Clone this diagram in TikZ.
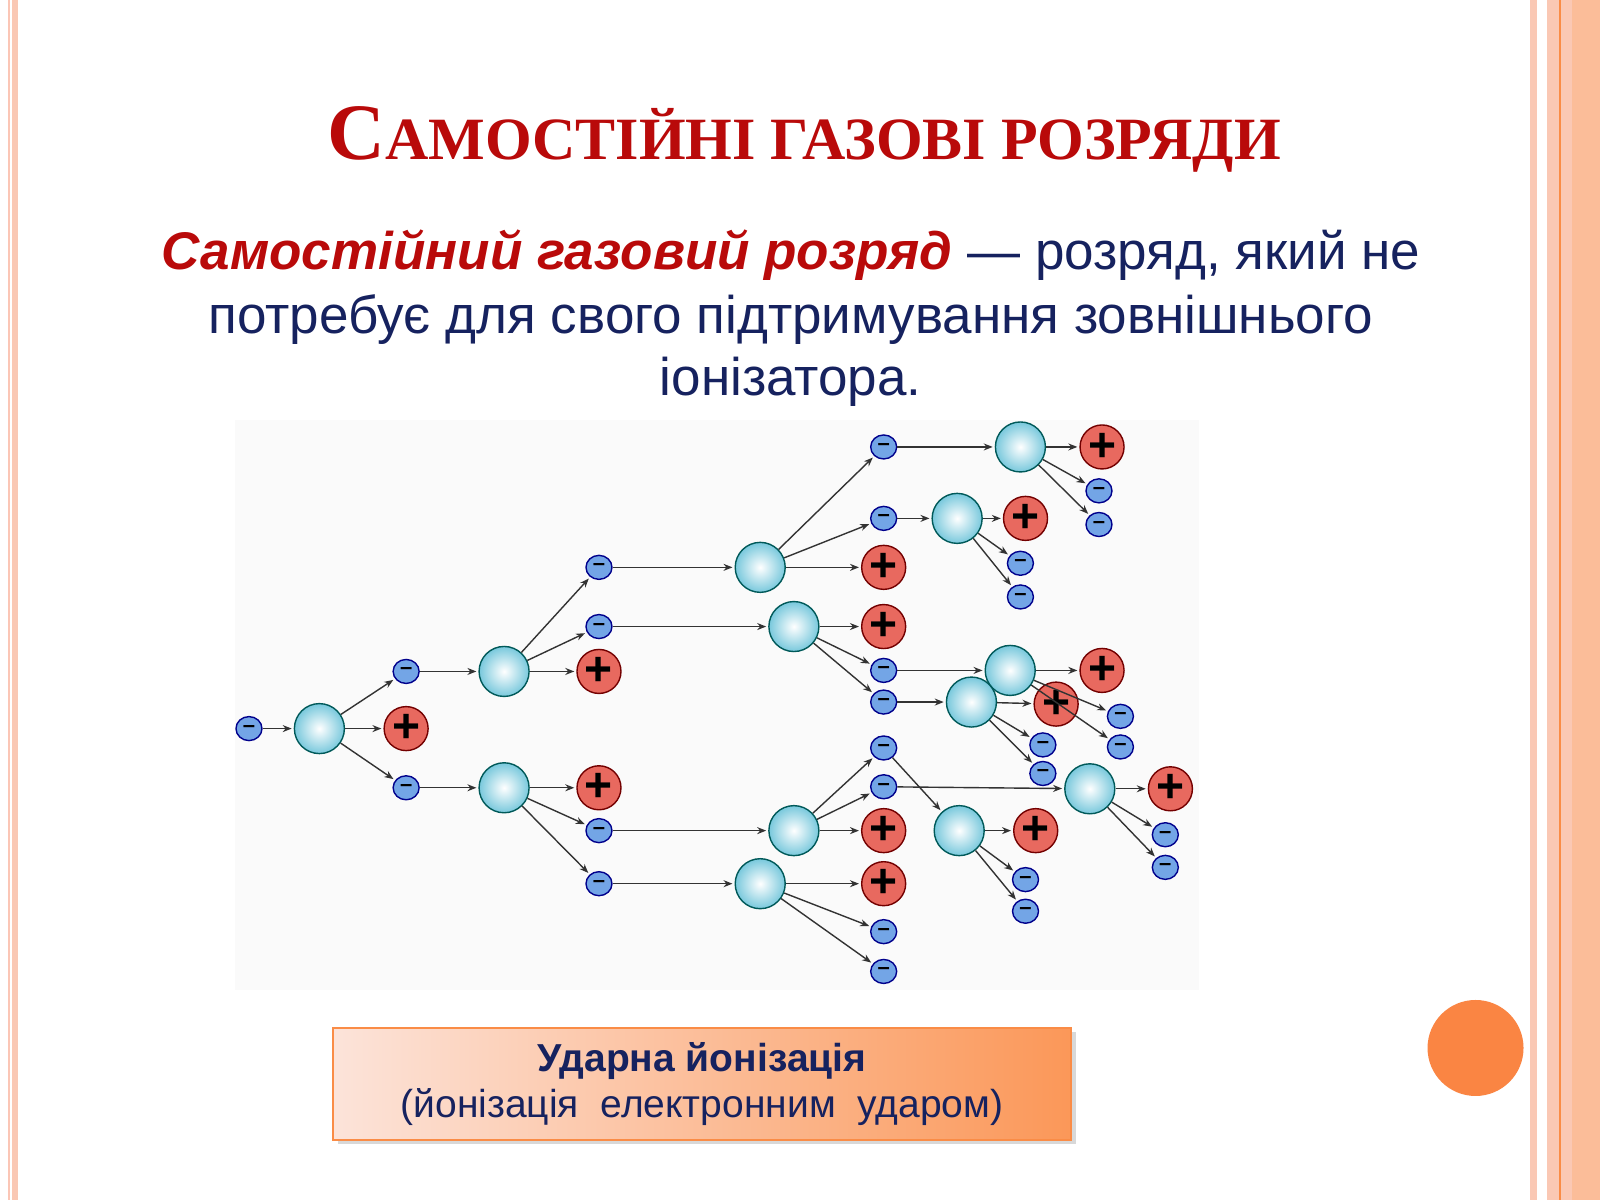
\documentclass[tikz,border=0pt]{standalone}
\usepackage{fontspec}
\setmainfont{Liberation Serif}
\setsansfont{Liberation Sans}
\usetikzlibrary{arrows.meta,shadows,shapes.geometric}
\definecolor{ttl}{RGB}{185,10,10}
\definecolor{navy}{RGB}{22,34,95}
\definecolor{salm}{RGB}{250,200,180}
\definecolor{orng}{RGB}{250,140,70}
\definecolor{atomc}{RGB}{120,200,220}
\definecolor{ionc}{RGB}{232,105,95}
\definecolor{elc}{RGB}{115,165,230}
\begin{document}
\begin{tikzpicture}[x=0.5102pt,y=-0.5102pt,
 atom/.style={circle,minimum size=25pt,inner sep=0pt,draw=teal!70!black,line width=0.7pt,inner color=white,outer color=atomc},
 ion/.style={circle,minimum size=22pt,inner sep=0pt,draw=red!45!black,line width=0.7pt,fill=ionc,font=\sffamily\bfseries\fontsize{24}{24}\selectfont,text=black},
 el/.style={ellipse,minimum width=13pt,minimum height=12pt,inner sep=0pt,draw=blue!55!black,line width=0.7pt,fill=elc,font=\sffamily\bfseries\fontsize{11}{11}\selectfont},
 ar/.style={-{Stealth[length=4.5pt,width=3.5pt]},line width=0.7pt,black!80,shorten >=1pt}]
\useasboundingbox (0,0) rectangle (1568,1176);
\fill[white] (0,0) rectangle (1568,1176);
% borders
\fill[salm!80!pink] (8,0) rectangle (10,1176);
\fill[salm] (12,0) rectangle (18,1176);
\fill[salm] (1499,0) rectangle (1506,1176);
\fill[salm] (1516,0) rectangle (1568,1176);
\fill[salm!85!orange] (1541,0) rectangle (1568,1176);
\fill[orng] (1528,0) rectangle (1530,1176);
% title
\node[text=ttl,font=\bfseries] (title) at (788,137)
 {\fontsize{40}{42}\selectfont С\fontsize{30}{32}\selectfont АМОСТІЙНІ ГАЗОВІ РОЗРЯДИ};
% body
\node[font=\sffamily\fontsize{26.5}{26.5}\selectfont,text=navy] (l1) at (775,250)
 {\textcolor{ttl}{\bfseries\itshape Самостійний газовий розряд} — розряд, який не};
\node[font=\sffamily\fontsize{26.5}{26.5}\selectfont,text=navy] (l2) at (775,313)
 {потребує для свого підтримування зовнішнього};
\node[font=\sffamily\fontsize{26.5}{26.5}\selectfont,text=navy] (l3) at (775,374) {іонізатора.};
% picture panel
\fill[black!2] (230,412) rectangle (1175,970);
% nodes
\node[el] (e0) at (244,714) {–};
\node[atom] (A1) at (313,714) {};
\node[ion] (I1) at (398,714) {+};
\node[el] (e1) at (398,658) {–};
\node[el] (e2) at (398,772) {–};
\node[atom] (A2) at (494,658) {};
\node[el] (e3) at (587,556) {–};
\node[el] (e4) at (587,614) {–};
\node[ion] (I2) at (587,658) {+};
\node[atom] (A3) at (494,772) {};
\node[ion] (I3) at (587,772) {+};
\node[el] (e5) at (587,814) {–};
\node[el] (e6) at (587,866) {–};
\node[atom] (A4) at (745,556) {};
\node[el] (e7) at (866,438) {–};
\node[el] (e8) at (866,508) {–};
\node[ion] (I4) at (866,556) {+};
\node[atom] (A5) at (778,614) {};
\node[ion] (I5) at (866,614) {+};
\node[el] (e9) at (866,657) {–};
\node[el] (e10) at (866,688) {–};
\node[atom] (A6) at (778,814) {};
\node[el] (e11) at (866,733) {–};
\node[el] (e12) at (866,771) {–};
\node[ion] (I6) at (866,814) {+};
\node[atom] (A7) at (745,866) {};
\node[ion] (I7) at (866,866) {+};
\node[el] (e13) at (866,913) {–};
\node[el] (e14) at (866,952) {–};
\node[atom] (A8) at (1000,438) {};
\node[ion] (I8) at (1080,438) {+};
\node[el] (e15) at (1077,481) {–};
\node[el] (e16) at (1077,514) {–};
\node[atom] (A9) at (938,508) {};
\node[ion] (I9) at (1005,508) {+};
\node[el] (e17) at (1000,552) {–};
\node[el] (e18) at (1000,585) {–};
\node[atom] (A10) at (990,657) {};
\node[ion] (I10) at (1080,657) {+};
\node[el] (e19) at (1098,702) {–};
\node[el] (e20) at (1098,732) {–};
\node[atom] (A11) at (952,688) {};
\node[ion] (I11) at (1035,690) {+};
\node[el] (e21) at (1022,730) {–};
\node[el] (e22) at (1022,758) {–};
\node[atom] (A13) at (940,814) {};
\node[ion] (I13) at (1015,814) {+};
\node[el] (e25) at (1005,862) {–};
\node[el] (e26) at (1005,893) {–};
\node[atom] (A12) at (1068,773) {};
\node[ion] (I12) at (1147,773) {+};
\node[el] (e23) at (1142,818) {–};
\node[el] (e24) at (1142,850) {–};
% connectors
\foreach \a/\b in {e0/A1,A1/I1,A1/e1,A1/e2,e1/A2,A2/e3,A2/e4,A2/I2,e2/A3,A3/I3,A3/e5,A3/e6,
 e3/A4,A4/e7,A4/e8,A4/I4,e4/A5,A5/I5,A5/e9,A5/e10,e5/A6,A6/e11,A6/e12,A6/I6,e6/A7,A7/I7,A7/e13,A7/e14,
 e7/A8,A8/I8,A8/e15,A8/e16,e8/A9,A9/I9,A9/e17,A9/e18,e9/A10,A10/I10,A10/e19,A10/e20,
 e10/A11,A11/I11,A11/e21,A11/e22,e11/A13,A13/I13,A13/e25,A13/e26,e12/A12,A12/I12,A12/e23,A12/e24}
 \draw[ar] (\a) -- (\b);
% box
\node[draw=orng,line width=0.8pt,left color=salm!50!white,right color=orng!90!white,
 minimum width=369pt,minimum height=56pt,drop shadow={opacity=0.3},text=navy,
 font=\sffamily\fontsize{19.5}{23}\selectfont,align=center] (box) at (688,1062)
 {\textbf{Ударна йонізація}\\(йонізація\ \ електронним\ \ ударом)};
\node[circle,fill=orng!95!red,minimum size=48pt,inner sep=0pt] (dot) at (1446,1027) {};
\end{tikzpicture}
\end{document}
